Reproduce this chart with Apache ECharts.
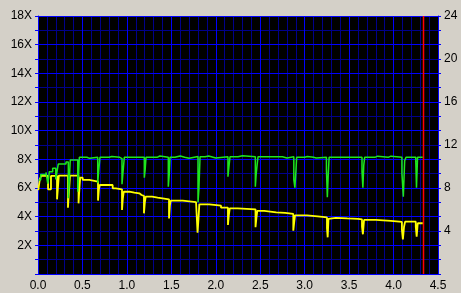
<!DOCTYPE html>
<html><head><meta charset="utf-8">
<script src="https://cdn.jsdelivr.net/npm/echarts@6/dist/echarts.min.js"></script>
<style>html,body{margin:0;padding:0;background:#d4d0c8;}#c{width:461px;height:293px;}</style>
</head><body><div id="c"></div>
<script>
var greenX = [0.005,0.03,0.09,0.11,0.12,0.127,0.165,0.2,0.21,0.228,0.315,0.341,0.352,0.363,0.447,0.457,0.465,0.55,0.58,0.672,0.683,0.697,0.8,0.83,0.92,0.945,0.955,0.971,1.03,1.05,1.196,1.206,1.215,1.34,1.37,1.466,1.476,1.485,1.54,1.6,1.65,1.7,1.8,1.81,1.823,1.88,1.9,1.92,2.0,2.137,2.147,2.16,2.25,2.3,2.445,2.455,2.475,2.6,2.62,2.75,2.8,2.878,2.89,2.9,2.91,3.0,3.03,3.1,3.13,3.245,3.255,3.265,3.275,3.38,3.4,3.5,3.52,3.645,3.655,3.665,3.675,3.79,3.82,3.94,3.97,4.094,4.11,4.125,4.14,4.25,4.258,4.27,4.328];
var greenY = [6.56,6.95,7.09,6.3,6.7,7.14,7.37,6.6,7.0,7.67,7.81,5.28,6.5,7.95,5.74,6.9,8.14,8.07,8.14,6.33,7.2,8.14,8.2,8.14,8.05,6.26,7.0,8.14,8.07,8.14,6.72,7.3,8.14,8.23,8.14,6.09,6.9,8.14,8.23,8.14,8.07,8.2,5.0,5.9,8.18,8.1,8.23,8.1,8.18,6.79,7.4,8.18,8.25,8.18,6.09,7.0,8.18,8.25,8.18,8.1,8.18,6.56,6.02,7.0,8.14,8.2,8.14,8.1,8.14,7.3,5.35,6.9,8.14,8.2,8.14,8.2,8.14,7.14,6.02,7.6,8.14,8.22,8.14,8.22,8.14,7.0,5.4,7.9,8.14,7.84,6.02,8.14,8.14];
var yellowX = [0.003,0.02,0.035,0.113,0.146,0.214,0.224,0.234,0.337,0.347,0.36,0.456,0.466,0.475,0.503,0.577,0.675,0.685,0.695,0.84,0.875,0.945,0.955,0.965,1.027,1.084,1.14,1.165,1.192,1.202,1.212,1.283,1.346,1.474,1.484,1.494,1.628,1.778,1.795,1.805,1.815,1.927,2.059,2.137,2.147,2.157,2.246,2.447,2.457,2.467,2.546,2.68,2.78,2.872,2.882,2.892,3.026,3.146,3.251,3.259,3.268,3.29,3.35,3.37,3.48,3.6,3.645,3.655,3.668,3.80,3.97,4.094,4.105,4.118,4.13,4.25,4.26,4.272,4.328];
var yellowY = [5.86,6.6,6.84,5.91,6.84,5.21,6.0,6.86,4.63,5.6,6.86,4.93,6.0,6.72,6.56,6.44,5.12,5.9,6.21,5.98,5.91,4.47,5.3,5.74,5.67,5.63,5.51,5.45,4.23,5.0,5.4,5.33,5.21,3.88,4.8,5.12,5.02,4.93,2.88,3.8,4.86,4.77,4.63,3.42,4.1,4.58,4.51,3.26,3.9,4.40,4.30,4.26,4.19,3.02,3.6,4.09,4.02,3.95,3.2,2.56,3.85,3.92,3.98,3.88,3.85,3.81,3.3,2.77,3.77,3.70,3.63,3.07,2.42,3.3,3.65,3.3,2.6,3.54,3.54];
var endMarker = 4.337;
var speedRange = [0, 18];

function pairs(xs, ys){ var o=[]; for(var i=0;i<xs.length;i++) o.push([xs[i], ys[i]]); return o; }

var chart = echarts.init(document.getElementById('c'), null, {renderer:'canvas'});
var major = '#0000ff', minor = '#00008c';
var lbl = {color:'#000', fontFamily:'Liberation Sans, Arial, sans-serif', fontSize:12};
var hiddenParts = {axisLine:{show:false}, axisTick:{show:false}, axisLabel:{show:false}};
chart.setOption({
  animation:false,
  backgroundColor:'#d4d0c8',
  grid:{left:38, top:16, right:23, bottom:19, show:true, backgroundColor:'#000', borderWidth:0, z:0},
  xAxis:[
    {type:'value', min:0, max:4.5, interval:0.5, z:3,
      axisLine:{show:true, onZero:false, lineStyle:{color:major, width:1}},
      axisTick:{show:false},
      splitLine:{show:true, lineStyle:{color:major, width:1}},
      axisLabel:Object.assign({margin:6, formatter:function(v){return v.toFixed(1);}}, lbl)
    },
    Object.assign({type:'value', min:0, max:4.5, interval:0.1, z:2,
      splitLine:{show:true, lineStyle:{color:minor, width:1, opacity:1}}}, hiddenParts)
  ],
  yAxis:[
    {type:'value', min:0, max:18, interval:2, position:'left', z:3,
      axisLine:{show:true, onZero:false, lineStyle:{color:major, width:1}},
      axisTick:{show:true, length:3, inside:false, lineStyle:{color:major}},
      minorTick:{show:true, splitNumber:2, length:3, lineStyle:{color:major}},
      splitLine:{show:true, lineStyle:{color:major, width:1}},
      minorSplitLine:{show:true, lineStyle:{color:minor, width:1, opacity:1}},
      axisLabel:Object.assign({margin:6, formatter:function(v){return v>0 ? v+'X' : '';}}, lbl)
    },
    {type:'value', min:0, max:18, interval:1, position:'right', z:3,
      axisLine:{show:true, onZero:false, lineStyle:{color:major, width:1}},
      axisTick:{show:true, length:3, lineStyle:{color:major}},
      splitLine:{show:false},
      axisLabel:Object.assign({margin:6, formatter:function(v){return (v>0 && v%3===0) ? String(v*4/3) : '';}}, lbl)
    }
  ],
  series:[
    {type:'line', data:[[endMarker, speedRange[0]],[endMarker, speedRange[1]]], showSymbol:false, symbol:'none',
      lineStyle:{color:'#ff0000', width:1.5, opacity:1}, z:4},
    {type:'line', step:'end', data:pairs(yellowX, yellowY), showSymbol:false, symbol:'none',
      lineStyle:{color:'#ffff00', width:1.8}, z:5},
    {type:'line', step:'end', data:pairs(greenX, greenY), showSymbol:false, symbol:'none',
      lineStyle:{color:'#1ee61e', width:1.5}, z:6}
  ]
});
</script></body></html>
